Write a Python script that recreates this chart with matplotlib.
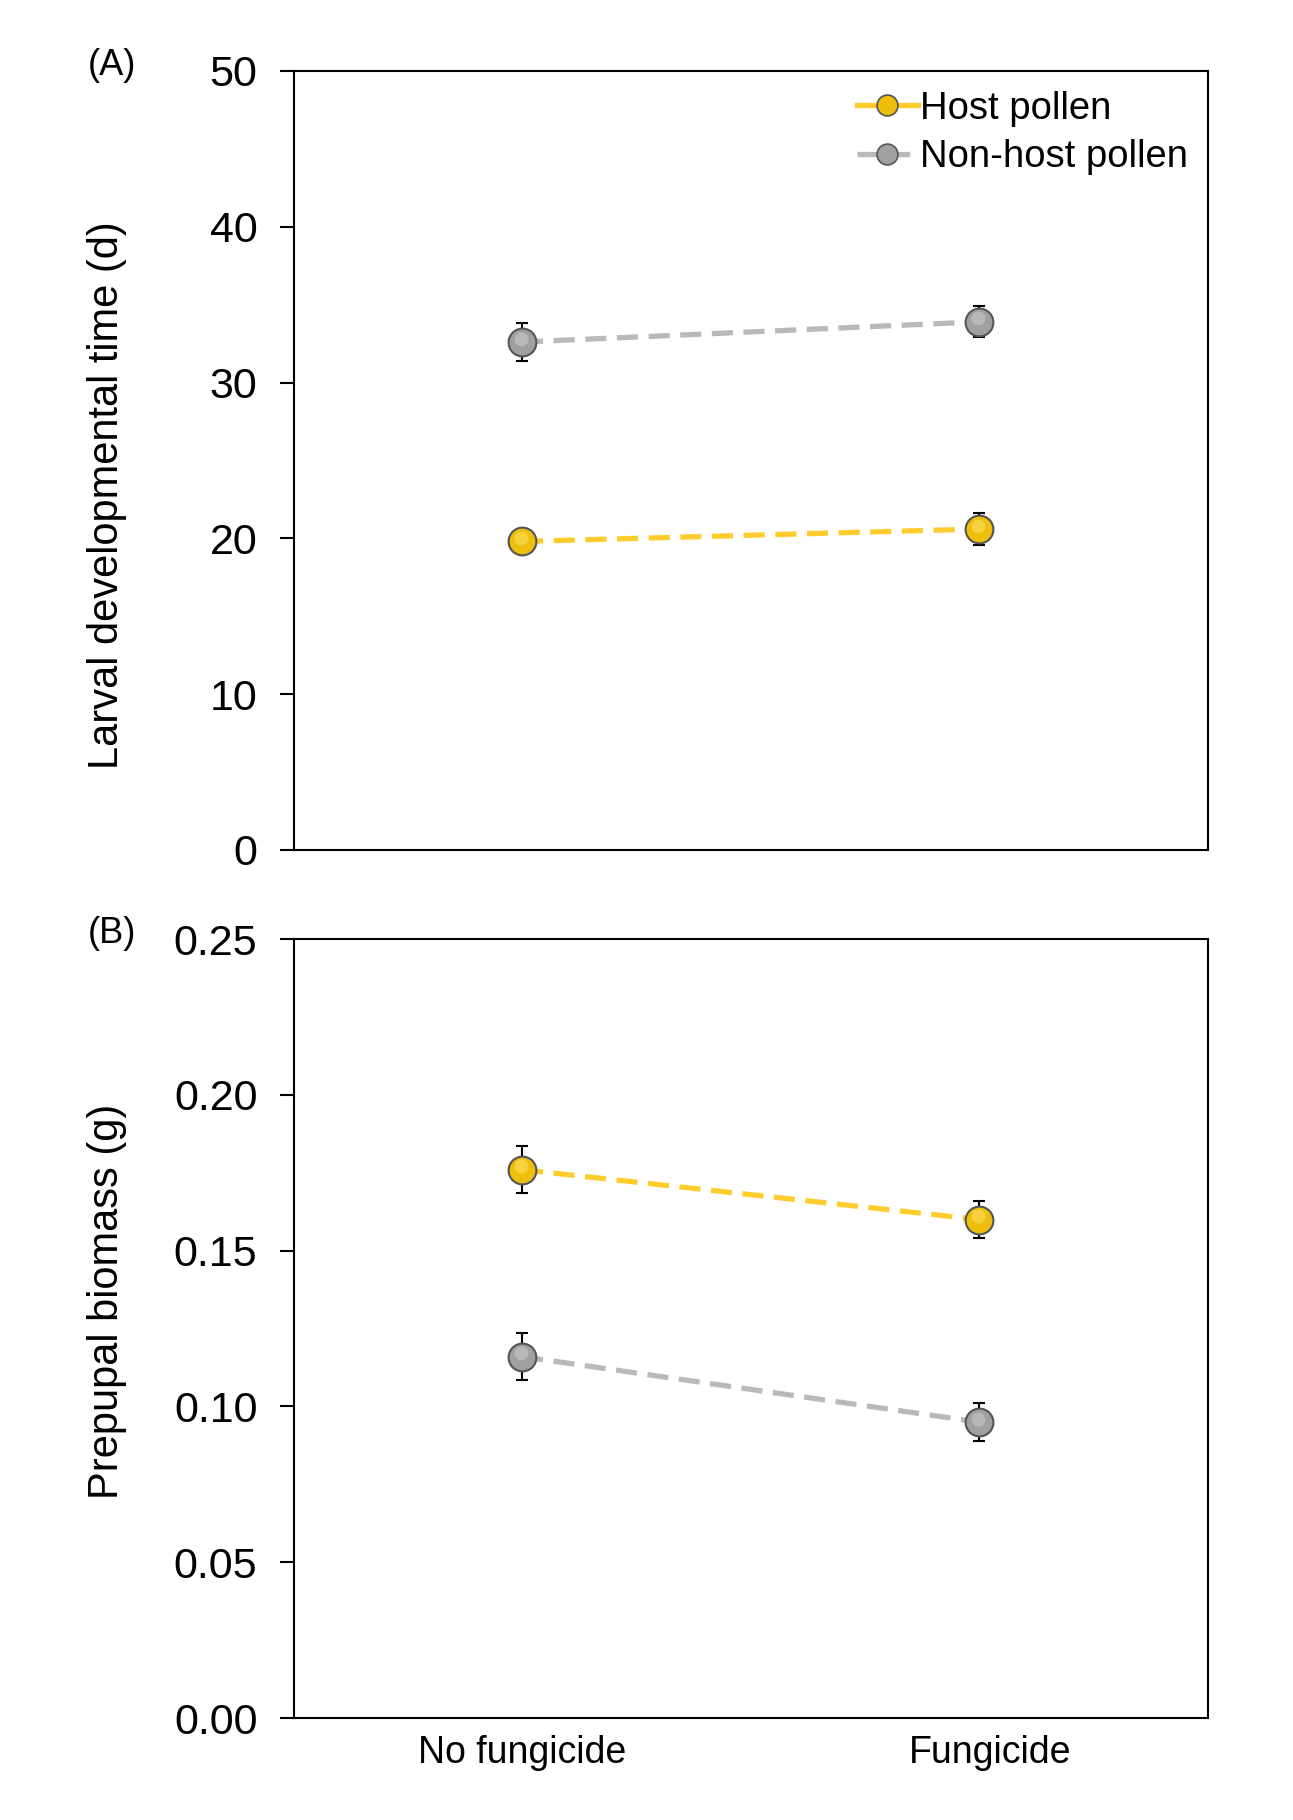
import matplotlib
matplotlib.use('Agg')
import matplotlib.pyplot as plt
import matplotlib.transforms as mtransforms
from matplotlib.lines import Line2D

plt.rcParams['font.family'] = ['Liberation Sans', 'DejaVu Sans']

treatments = ['No fungicide', 'Fungicide']
series = ['Host pollen', 'Non-host pollen']

# panel A: larval developmental time (d)
dev_host = [19.8, 20.6]
dev_host_err = [0.4, 1.0]
dev_nonhost = [32.6, 33.9]
dev_nonhost_err = [1.2, 1.0]

# panel B: prepupal biomass (g)
bio_host = [0.176, 0.160]
bio_host_err = [0.0075, 0.006]
bio_nonhost = [0.116, 0.095]
bio_nonhost_err = [0.0075, 0.006]

line_colors = {'Host pollen': '#FFCC2E', 'Non-host pollen': '#B9B9B9'}
marker_colors = {'Host pollen': '#EDBE0C', 'Non-host pollen': '#A0A0A0'}
highlight = {'Host pollen': '#FFE36A', 'Non-host pollen': '#CDCDCD'}

fig = plt.figure(figsize=(12.93, 18.2), dpi=100)
axA = fig.add_axes([0.227, 0.533, 0.707, 0.428])
axB = fig.add_axes([0.227, 0.056, 0.707, 0.428])

x = [0, 1]


def draw(ax, data, ylim, yticks, fmt, ylabel, label_y):
    shift = ax.transData + mtransforms.ScaledTranslation(-1 / 72, 2.5 / 72,
                                                         fig.dpi_scale_trans)
    for name, vals, errs in data:
        ax.plot(x, vals, color=line_colors[name], lw=3.8, dashes=(4, 2),
                zorder=2)
        ax.errorbar(x, vals, yerr=errs, fmt='none', ecolor='black',
                    elinewidth=1.5, capsize=4, capthick=1.5, zorder=3)
        ax.plot(x, vals, linestyle='none', marker='o', markersize=20,
                markerfacecolor=marker_colors[name], markeredgecolor='#555555',
                markeredgewidth=1.5, zorder=4)
        # soft highlight for a rounded look
        ax.plot(x, vals, linestyle='none', marker='o', markersize=10,
                markerfacecolor=highlight[name], markeredgecolor='none',
                alpha=0.55, zorder=5, transform=shift)
    ax.set_xlim(-0.5, 1.5)
    ax.set_ylim(*ylim)
    ax.set_yticks(yticks)
    ax.set_yticklabels([fmt.format(v) for v in yticks])
    ax.tick_params(axis='y', direction='out', length=10, width=1.5,
                   labelsize=31, pad=16)
    ax.tick_params(axis='x', length=0, labelsize=27, pad=12)
    for s in ax.spines.values():
        s.set_linewidth(1.5)
    ax.set_ylabel(ylabel, fontsize=30)
    ax.yaxis.set_label_coords(-0.182, label_y)


draw(axA, [('Host pollen', dev_host, dev_host_err),
           ('Non-host pollen', dev_nonhost, dev_nonhost_err)],
     (0, 50), [0, 10, 20, 30, 40, 50], '{:.0f}',
     'Larval developmental time (d)', 0.455)
axA.set_xticks([])

draw(axB, [('Host pollen', bio_host, bio_host_err),
           ('Non-host pollen', bio_nonhost, bio_nonhost_err)],
     (0, 0.25), [0.0, 0.05, 0.10, 0.15, 0.20, 0.25], '{:.2f}',
     'Prepupal biomass (g)', 0.535)
axB.set_xticks(x)
axB.set_xticklabels(treatments)
lbl = axB.get_xticklabels()[1]
lbl.set_transform(lbl.get_transform() +
                  mtransforms.ScaledTranslation(8 / 72, 0, fig.dpi_scale_trans))

# legend with line + marker handles
handles = [Line2D([0], [0], color=line_colors[n], lw=3.8, marker='o',
                  markersize=15, markerfacecolor=marker_colors[n],
                  markeredgecolor='#555555', markeredgewidth=1.2)
           for n in series]
handles[1].set_dashes((4, 2))
axA.legend(handles, series, loc='upper right', frameon=False, fontsize=27.5,
           handlelength=1.6, handletextpad=0.05, labelspacing=0.32,
           borderaxespad=0.12)

fig.text(0.068, 0.964, '(A)', fontsize=26, va='center')
fig.text(0.068, 0.487, '(B)', fontsize=26, va='center')

fig.savefig('out.png', dpi=100)
